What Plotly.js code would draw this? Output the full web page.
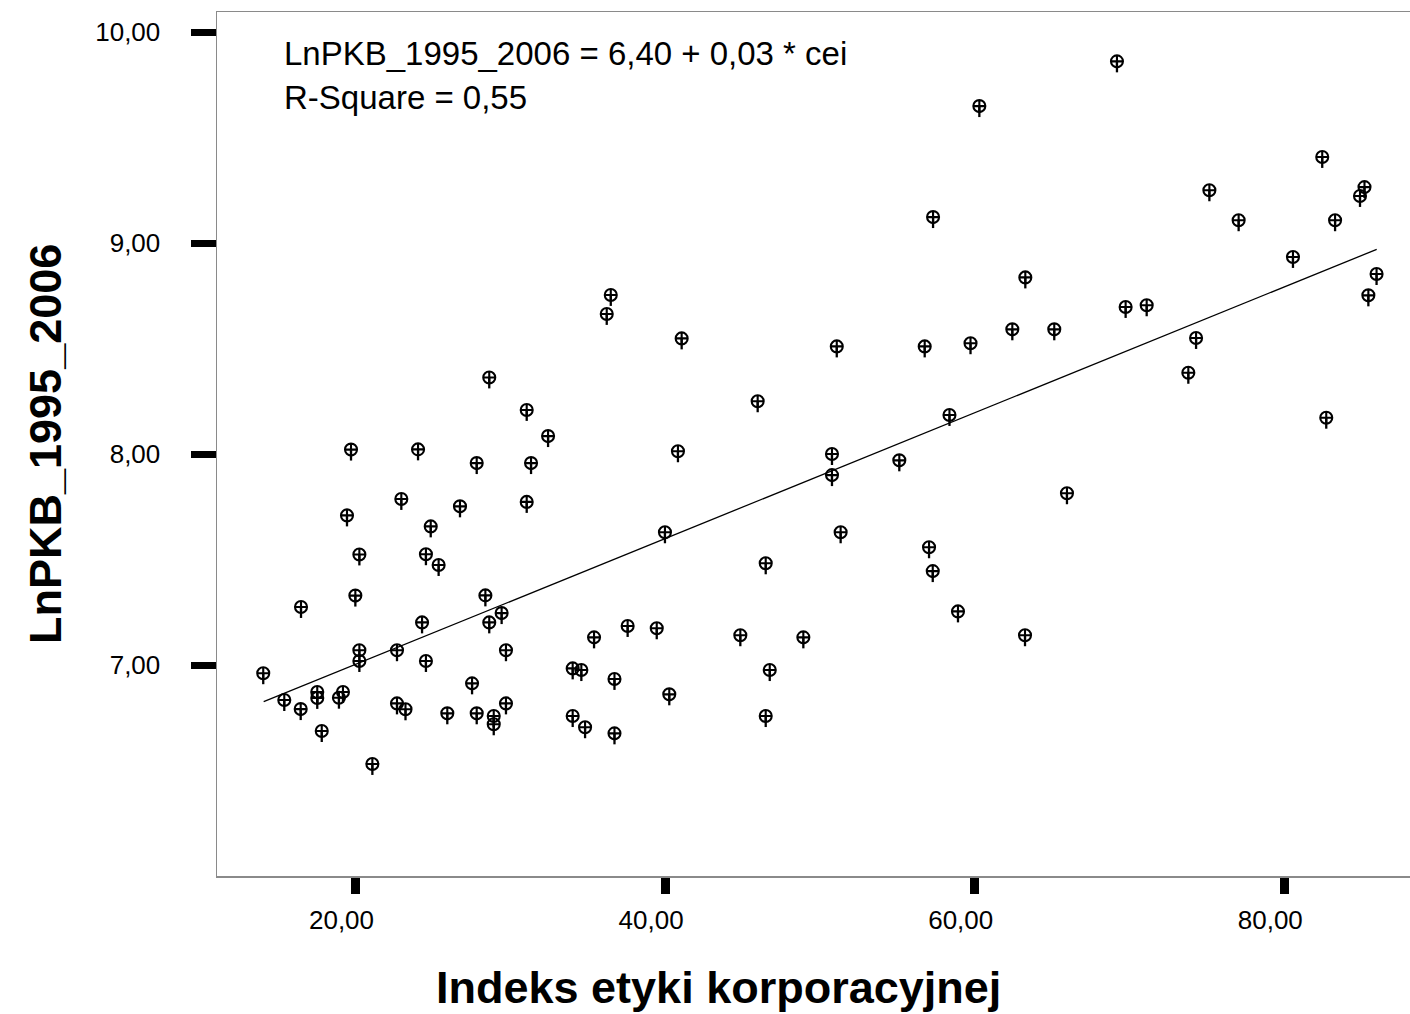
<!DOCTYPE html>
<html>
<head>
<meta charset="utf-8">
<script src="https://cdn.plot.ly/plotly-3.0.1.min.js"></script>
<style>html,body{margin:0;padding:0;background:#fff;}#chart{width:1410px;height:1014px;}</style>
</head>
<body>
<div id="chart"></div>
<script>
// Indeks etyki korporacyjnej (cei)
const ceiValues = [
  14.04, 15.40, 16.48, 16.46, 17.53, 17.53, 17.82, 18.93, 19.19, 19.45,
  19.71, 19.99, 20.25, 20.25, 20.25, 21.09, 22.68, 22.68, 22.96, 23.23,
  24.04, 24.30, 24.55, 24.55, 24.86, 25.37, 25.93, 26.75, 27.53, 27.83,
  27.83, 28.39, 28.64, 28.64, 28.93, 28.93, 29.44, 29.72, 29.72, 31.06,
  31.06, 31.34, 32.44, 34.03, 34.03, 34.59, 34.83, 35.41, 36.23, 36.49,
  36.73, 36.73, 37.58, 39.46, 39.99, 40.27, 40.83, 41.07, 44.86, 45.98,
  46.50, 46.50, 46.76, 48.93, 50.78, 50.78, 51.09, 51.34, 55.13, 56.77,
  57.05, 57.31, 57.29, 58.37, 58.92, 59.73, 60.30, 62.43, 63.27, 63.25,
  65.14, 65.96, 69.19, 69.75, 71.11, 73.80, 74.30, 75.16, 77.05, 80.56,
  82.45, 82.71, 83.28, 84.89, 85.18, 85.43, 85.96
];
// LnPKB_1995_2006
const lnPKBValues = [
  6.961, 6.834, 7.275, 6.791, 6.872, 6.844, 6.687, 6.845, 6.872, 7.709,
  8.021, 7.329, 7.524, 7.070, 7.019, 6.531, 7.070, 6.818, 7.787, 6.790,
  8.022, 7.202, 7.525, 7.019, 7.657, 7.474, 6.771, 7.752, 6.913, 7.957,
  6.771, 7.330, 8.363, 7.202, 6.758, 6.719, 7.246, 7.070, 6.818, 8.209,
  7.773, 7.957, 8.085, 6.984, 6.758, 6.976, 6.705, 7.131, 8.664, 8.754,
  6.934, 6.676, 7.185, 7.174, 7.629, 6.861, 8.013, 8.548, 7.141, 8.250,
  7.482, 6.758, 6.976, 7.131, 8.000, 7.900, 8.510, 7.629, 7.970, 8.510,
  7.558, 9.123, 7.445, 8.185, 7.254, 8.525, 9.649, 8.591, 8.837, 7.141,
  8.591, 7.814, 9.861, 8.697, 8.705, 8.385, 8.550, 9.250, 9.108, 8.934,
  9.408, 8.172, 9.108, 9.223, 9.265, 8.752, 8.853
];
// Linear fit line endpoints
const fitX = [14.07, 85.97];
const fitY = [6.826, 8.970];

const xTickVals = [20, 40, 60, 80];
const xTickText = ['20,00', '40,00', '60,00', '80,00'];
const yTickVals = [7, 8, 9, 10];
const yTickText = ['7,00', '8,00', '9,00', '10,00'];

const equationText = 'LnPKB_1995_2006 = 6,40 + 0,03 * cei';
const rSquareText = 'R-Square = 0,55';
const xTitle = 'Indeks etyki korporacyjnej';
const yTitle = 'LnPKB_1995_2006';

const FONT = '"Liberation Sans", Arial, Helvetica, sans-serif';

const traces = [
  {
    x: fitX, y: fitY, type: 'scatter', mode: 'lines',
    line: {color: '#000', width: 1.3}, hoverinfo: 'skip', showlegend: false
  },
  {
    x: ceiValues, y: lnPKBValues, type: 'scatter', mode: 'markers',
    marker: {symbol: 'circle-cross-open', size: 12, color: '#000', line: {color: '#000', width: 2.1}},
    error_y: {type: 'constant', symmetric: false, value: 0, valueminus: 0.052, color: '#000', thickness: 2.3, width: 0},
    showlegend: false
  }
];

const layout = {
  width: 1410, height: 1014,
  margin: {l: 217, r: 0, t: 12, b: 138, pad: 0},
  paper_bgcolor: '#fff', plot_bgcolor: '#fff',
  font: {family: FONT, color: '#000'},
  showlegend: false,
  xaxis: {
    range: [11.053, 88.12], showgrid: false, zeroline: false,
    showline: true, linecolor: '#8a8a8a', linewidth: 1.5, mirror: true,
    ticks: 'outside', ticklen: 16, tickwidth: 9, tickcolor: '#000',
    tickvals: xTickVals, ticktext: xTickText,
    tickfont: {family: FONT, size: 26, color: '#000'},
    ticklabelshift: -14, ticklabelstandoff: 4
  },
  yaxis: {
    range: [6.0, 10.095], showgrid: false, zeroline: false,
    showline: true, linecolor: '#8a8a8a', linewidth: 1.5, mirror: false,
    ticks: 'outside', ticklen: 25, tickwidth: 7, tickcolor: '#000',
    tickvals: yTickVals, ticktext: yTickText,
    tickfont: {family: FONT, size: 26, color: '#000'},
    ticklabelstandoff: 25
  },
  annotations: [
    {xref: 'paper', yref: 'paper', x: 0.0545, y: 0.9525, xanchor: 'left', yanchor: 'middle',
     text: equationText, showarrow: false, font: {family: FONT, size: 33, color: '#000'}},
    {xref: 'paper', yref: 'paper', x: 0.0545, y: 0.9016, xanchor: 'left', yanchor: 'middle',
     text: rSquareText, showarrow: false, font: {family: FONT, size: 33, color: '#000'}},
    {xref: 'paper', yref: 'paper', x: 0.42, y: -0.1296, xanchor: 'center', yanchor: 'middle',
     text: '<b>' + xTitle + '</b>', showarrow: false, font: {family: FONT, size: 45, color: '#000'}},
    {xref: 'paper', yref: 'paper', x: -0.1442, y: 0.5, xanchor: 'center', yanchor: 'middle',
     text: '<b>' + yTitle + '</b>', textangle: -90, showarrow: false, font: {family: FONT, size: 45, color: '#000'}}
  ]
};

Plotly.newPlot('chart', traces, layout, {displayModeBar: false, staticPlot: true});
</script>
</body>
</html>
